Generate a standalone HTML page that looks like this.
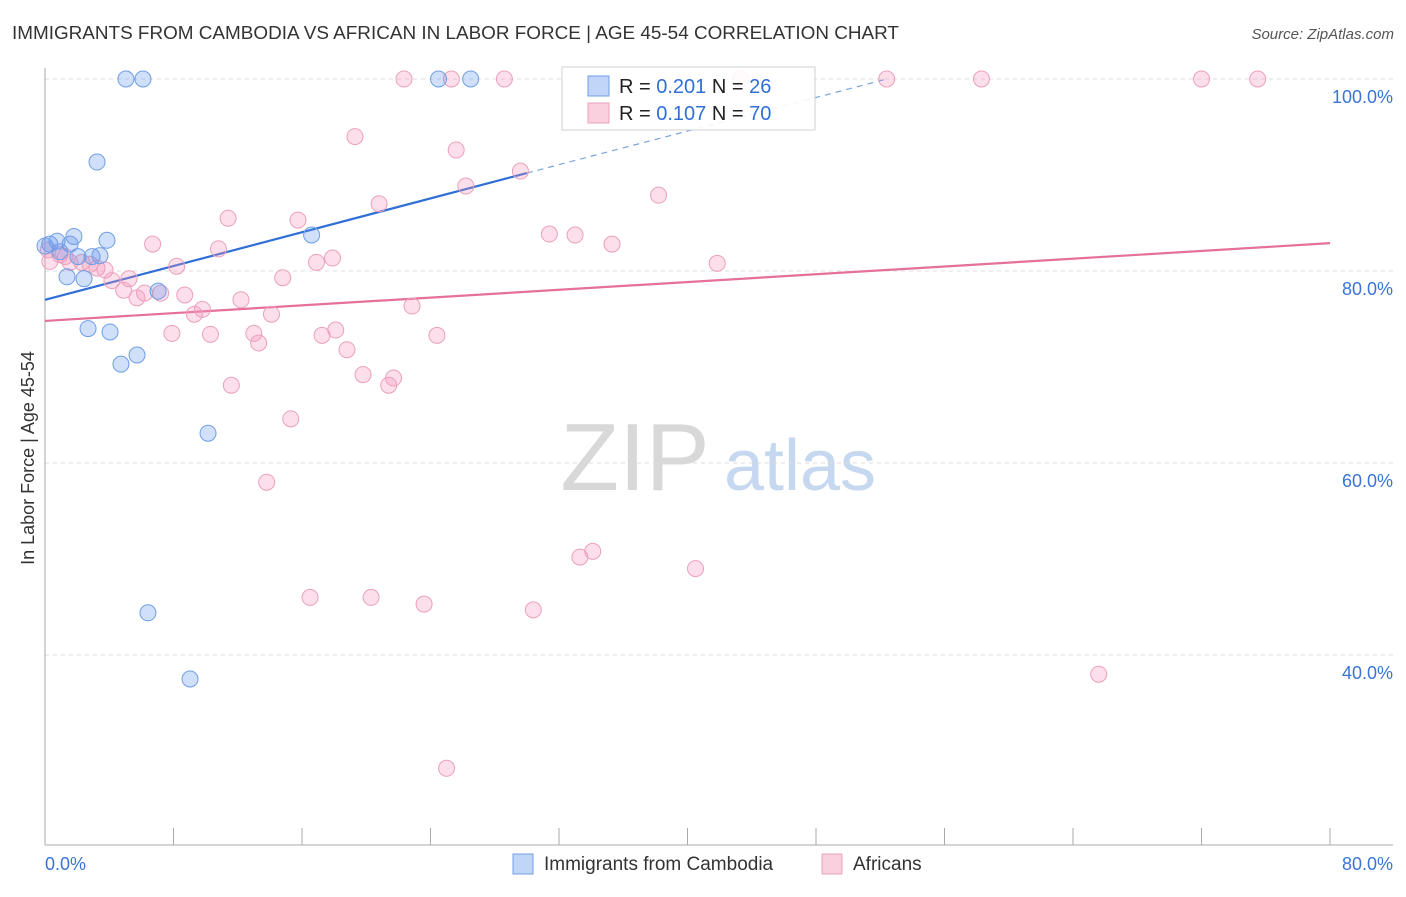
<!DOCTYPE html>
<html><head><meta charset="utf-8"><style>
body{margin:0;background:#fff;font-family:"Liberation Sans",sans-serif;}
svg text{font-family:"Liberation Sans",sans-serif;}
</style></head><body>
<svg id="chart" width="1406" height="892" xmlns="http://www.w3.org/2000/svg">
<text x="12" y="39" font-size="18.9" fill="#333">IMMIGRANTS FROM CAMBODIA VS AFRICAN IN LABOR FORCE | AGE 45-54 CORRELATION CHART</text>
<text x="1394" y="39" font-size="15" fill="#555" font-style="italic" text-anchor="end">Source: ZipAtlas.com</text>
<text x="0" y="0" font-size="18" fill="#333" text-anchor="middle" transform="translate(34,458) rotate(-90)">In Labor Force | Age 45-54</text>
<g><text x="635" y="490" font-size="96" font-family="Liberation Serif" fill="#d8d8d8" text-anchor="middle">ZIP</text><text x="800" y="490" font-size="72" fill="#c6d8f0" text-anchor="middle">atlas</text></g>
<g id="grid"></g><g id="axes"></g><g id="lines"></g><g id="pts"></g>
<g>
<rect x="562" y="67" width="253" height="63" fill="#fff" stroke="#ccc" opacity="0.9"/>
<rect x="588" y="76" width="21" height="20" fill="rgba(100,149,237,0.4)" stroke="#6f9fe6"/>
<rect x="588" y="103" width="21" height="20" fill="rgba(245,150,185,0.45)" stroke="#eba0bb"/>
<text x="619" y="93" font-size="20" fill="#222">R = <tspan fill="#2f6fd6">0.201</tspan>   N = <tspan fill="#2f6fd6"> 26</tspan></text>
<text x="619" y="120" font-size="20" fill="#222">R = <tspan fill="#2f6fd6">0.107</tspan>   N = <tspan fill="#2f6fd6">70</tspan></text>
</g>
<g>
<rect x="513" y="854" width="20" height="20" fill="rgba(100,149,237,0.4)" stroke="#6f9fe6"/>
<text x="544" y="870" font-size="19" fill="#333">Immigrants from Cambodia</text>
<rect x="822" y="854" width="20" height="20" fill="rgba(245,150,185,0.45)" stroke="#eba0bb"/>
<text x="853" y="870" font-size="19" fill="#333">Africans</text>
</g>
</svg>
<script>
const xTicksPct=[0,80];
const yTicks=[100,80,60,40];
const blueX=[5.04,6.1,24.5,26.5,3.24,1.8,3.86,16.6,0.75,1.56,0.3,2.93,3.42,0.93,2.05,1.37,2.43,7.04,2.68,4.05,5.73,4.73,10.15,6.41,9.03,0];
const blueY=[100,100,100,100,91.35,83.6,83.2,83.75,83.1,82.8,82.8,81.5,81.6,82.0,81.5,79.4,79.2,77.9,74.0,73.65,71.25,70.3,63.1,44.4,37.5,82.6];
const pinkX=[22.35,25.3,28.6,43.3,52.4,58.3,72.0,75.5,19.3,25.6,29.6,26.2,38.2,20.8,11.4,15.75,31.4,33.0,6.7,10.8,35.3,17.9,16.9,41.85,8.2,0.3,0.93,2.3,3.24,3.74,5.23,4.17,14.8,4.9,6.2,5.73,7.2,8.7,12.2,9.8,9.3,14.1,22.85,7.9,10.3,13.0,18.1,17.25,13.3,24.4,18.8,19.8,21.7,21.4,11.6,15.3,13.8,34.1,33.3,40.5,16.5,20.3,23.6,30.4,65.6,25.0,1.56,2.8,0.2,1.25];
const pinkY=[100,100,100,100,100,100,100,100,94.0,92.6,90.4,88.85,87.9,87.0,85.5,85.3,83.85,83.75,82.8,82.3,82.8,81.35,80.9,80.8,80.5,81.0,81.7,80.9,80.3,80.1,79.2,79.0,79.3,78.0,77.7,77.2,77.7,77.5,77.0,76.0,75.5,75.5,76.35,73.5,73.4,73.5,73.85,73.3,72.5,73.3,71.8,69.2,68.85,68.1,68.1,64.6,58.0,50.8,50.2,49.0,46.0,46.0,45.3,44.7,38.0,28.2,80.9,80.7,82.2,81.5];
const blueLine=[0,77.0,30,90.2,52.4,100];
const pinkLine=[0,74.8,80,82.9];
const X=v=>45+v*16.0625, Y=v=>79+(100-v)*9.6;
const NS="http://www.w3.org/2000/svg";
function mk(p,t,a){const e=document.createElementNS(NS,t);for(const k in a)e.setAttribute(k,a[k]);document.getElementById(p).appendChild(e);return e;}
yTicks.forEach(t=>{
 const l=mk('grid','line',{x1:45,x2:1393,y1:Y(t),y2:Y(t),stroke:'#ddd','stroke-dasharray':'4,4'});
 
 
 const tx=mk('grid','text',{x:1393,y:Y(t)+24,'font-size':18,fill:'#3b74d6','text-anchor':'end'});
 tx.textContent=t.toFixed(1)+'%';
 
 
});
const ax=mk('axes','line',{x1:45,x2:45,y1:68,y2:845,stroke:'#aaa'});


const bx=mk('axes','line',{x1:45,x2:1393,y1:845,y2:845,stroke:'#aaa'});


for(let i=0;i<=10;i++){const tk=mk('axes','line',{x1:X(i*8),x2:X(i*8),y1:828,y2:845,stroke:'#aaa'});
 
 }
xTicksPct.forEach((t,i)=>{const tx=mk('axes','text',{x:i?1393:45,y:870,'font-size':18,fill:'#3b74d6','text-anchor':i?'end':'start'});
 tx.textContent=t.toFixed(1)+'%';
 
 });
const bl=mk('lines','line',{x1:X(blueLine[0]),y1:Y(blueLine[1]),x2:X(blueLine[2]),y2:Y(blueLine[3]),stroke:'#2f6fd6','stroke-width':2.2});


const bd=mk('lines','line',{x1:X(blueLine[2]),y1:Y(blueLine[3]),x2:X(blueLine[4]),y2:Y(blueLine[5]),stroke:'#7aa3e0','stroke-width':1.2,'stroke-dasharray':'6,5'});


const pl=mk('lines','line',{x1:X(pinkLine[0]),y1:Y(pinkLine[1]),x2:X(pinkLine[2]),y2:Y(pinkLine[3]),stroke:'#e5709a','stroke-width':2.2});


pinkX.forEach((v,i)=>{const c=mk('pts','circle',{cx:X(v),cy:Y(pinkY[i]),r:8,fill:'rgba(245,150,185,0.3)',stroke:'#eba0bb','stroke-width':1});
 
 });
blueX.forEach((v,i)=>{const c=mk('pts','circle',{cx:X(v),cy:Y(blueY[i]),r:8,fill:'rgba(100,149,237,0.3)',stroke:'#6f9fe6','stroke-width':1});
 
 });
</script>
</body></html>
